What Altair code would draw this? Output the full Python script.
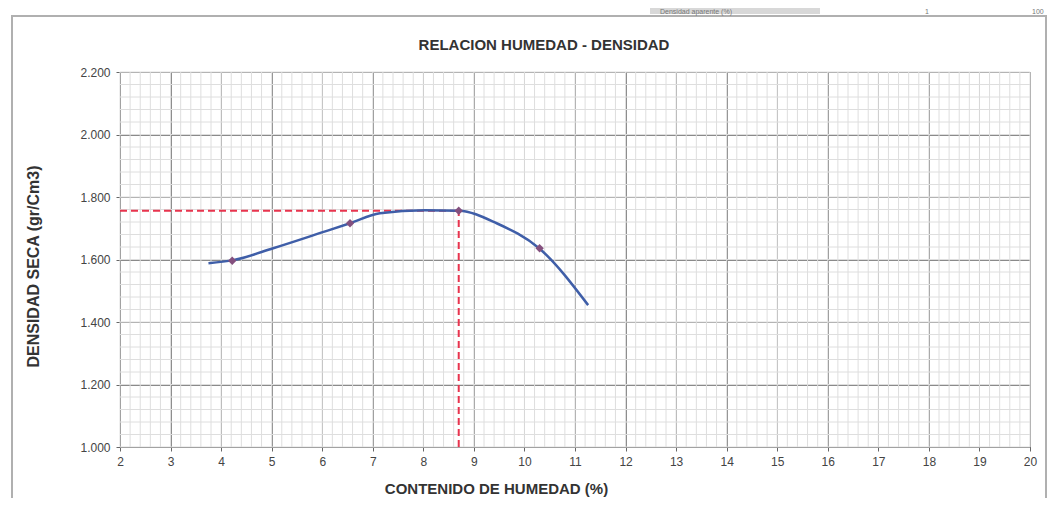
import altair as alt
import pandas as pd

# Curve
curve_x = [3.75, 4.24, 5.03, 6.06, 6.55, 7.14, 8.03, 8.71, 9.45, 10.29, 11.26]
curve_y = [1.588, 1.598, 1.636, 1.690, 1.716, 1.748, 1.758, 1.756, 1.716, 1.636, 1.454]

# Test points
pts_x = [4.22, 6.55, 8.70, 10.30]
pts_y = [1.596, 1.716, 1.756, 1.636]

# Optimum moisture / max dry density
opt_x = 8.70
max_y = 1.756

x_ticks = list(range(2, 21))
y_ticks = [1.0, 1.2, 1.4, 1.6, 1.8, 2.0, 2.2]
x_minor = [round(2 + i * 0.2, 2) for i in range(0, 91)]
y_minor = [round(1.0 + i * 0.04, 3) for i in range(0, 31)]

FONT = "Liberation Sans, Arial, sans-serif"

xs = alt.Scale(domain=[2, 20], nice=False, zero=False)
ys = alt.Scale(domain=[1.0, 2.2], nice=False, zero=False)

x_axis = alt.Axis(
    values=x_ticks, format="d", grid=True, gridColor="#8a8a8a", gridWidth=1,
    tickSize=4, tickColor="#666", domainColor="#666", labelPadding=5, labelFlush=False,
    labelFont=FONT, labelFontSize=12, labelColor="#444",
    title="CONTENIDO DE HUMEDAD (%)", titleFont=FONT, titleFontSize=15,
    titleFontWeight="bold", titleColor="#333", titleX=376, titleY=41,
    titleBaseline="middle")
y_axis = alt.Axis(
    values=y_ticks, format=".3f", grid=True, gridColor="#8a8a8a", gridWidth=1,
    tickSize=4, tickColor="#666", domainColor="#666", labelPadding=6, labelFlush=False,
    labelFont=FONT, labelFontSize=12, labelColor="#444",
    title="DENSIDAD SECA (gr/Cm3)", titleFont=FONT, titleFontSize=16,
    titleFontWeight="bold", titleColor="#333", titleX=-87, titleY=194,
    titleAngle=-90, titleBaseline="middle")

X = alt.X("x:Q", scale=xs, axis=x_axis)
Y = alt.Y("y:Q", scale=ys, axis=y_axis)

curve_df = pd.DataFrame({"x": curve_x, "y": curve_y})
pts_df = pd.DataFrame({"x": pts_x, "y": pts_y})
xminor_df = pd.DataFrame({"x": x_minor})
yminor_df = pd.DataFrame({"y": y_minor})
h_df = pd.DataFrame({"x": [2.0], "x2": [opt_x], "y": [max_y]})
v_df = pd.DataFrame({"x": [opt_x], "y": [1.0], "y2": [max_y]})

minor_v = alt.Chart(xminor_df).mark_rule(color="#dedede", strokeWidth=1).encode(x=X)
minor_h = alt.Chart(yminor_df).mark_rule(color="#dedede", strokeWidth=1).encode(y=Y)
axes_layer = alt.Chart(curve_df).mark_point(opacity=0).encode(x=X, y=Y)

dash = dict(color="#e8344e", strokeWidth=2, strokeDash=[7, 4])
hline = alt.Chart(h_df).mark_rule(**dash).encode(x=X, x2="x2:Q", y=Y)
vline = alt.Chart(v_df).mark_rule(**dash).encode(x=X, y=Y, y2="y2:Q")

line = alt.Chart(curve_df).mark_line(color="#3f5ea8", strokeWidth=2.5, interpolate="monotone").encode(x=X, y=Y)
points = alt.Chart(pts_df).mark_point(shape="diamond", filled=True, color="#84507e", size=70, opacity=1).encode(x=X, y=Y)

one = pd.DataFrame({"a": [0]})
frame = alt.Chart(one).mark_rect(
    fill="transparent", stroke="#b0b0b0", strokeWidth=2, clip=False).encode(
    x=alt.value(-108), x2=alt.value(926), y=alt.value(-56), y2=alt.value(450))

topband = alt.Chart(one).mark_rect(fill="#d8d8d8", clip=False).encode(
    x=alt.value(530), x2=alt.value(700), y=alt.value(-64), y2=alt.value(-58))

top_texts = []
for txt, px in [("Densidad aparente (%)", 540), ("1", 805), ("100", 912)]:
    top_texts.append(alt.Chart(one).mark_text(
        text=txt, font=FONT, fontSize=7, color="#777", align="left", baseline="top", clip=False).encode(
        x=alt.value(px), y=alt.value(-64)))

title = alt.Chart(one).mark_text(
    text="RELACION HUMEDAD - DENSIDAD", font=FONT, fontSize=15, fontWeight="bold",
    color="#333", align="center", baseline="middle").encode(
    x=alt.value(424), y=alt.value(-27))

chart = alt.layer(minor_v, minor_h, axes_layer, hline, vline, line, points, topband, frame,
                  *top_texts, title).properties(
    width=910, height=375,
    autosize=alt.AutoSizeParams(type="none"),
    padding={"left": 112, "top": 64, "right": 19, "bottom": 51},
).configure_view(stroke="#777", strokeWidth=1)

chart.save("out.html", embed_options={"renderer": "svg", "actions": False})
